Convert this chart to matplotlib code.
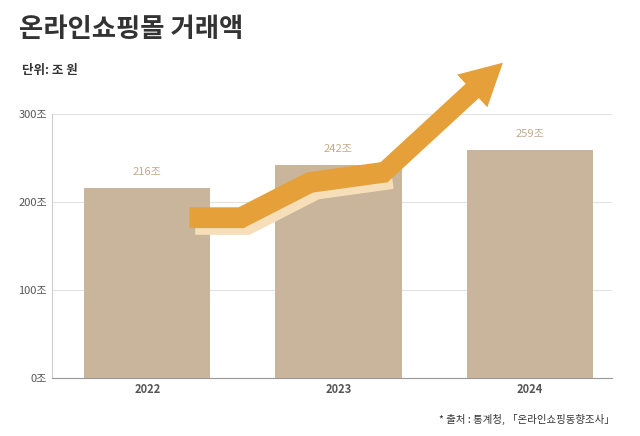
import matplotlib.pyplot as plt
import numpy as np

plt.rcParams['font.family'] = 'Noto Sans CJK KR'

years = ['2022', '2023', '2024']
values = [216, 242, 259]
yticks = [0, 100, 200, 300]
# decorative arrow path (x in bar index units, y in 조)
arrow_x = [0.22, 0.49, 0.85, 1.25, 1.86]
arrow_y = [182, 182, 222, 234, 358]

fig = plt.figure(figsize=(6.4, 4.36), dpi=100)
ax = fig.add_axes([0.081, 0.133, 0.875, 0.606])
x = np.arange(len(years))
ax.bar(x, values, width=0.66, color='#c8b59b', zorder=2)
for xi, v in zip(x, values):
    ax.text(xi, v + 12, f'{v}조', ha='center', va='bottom', fontsize=8, color='#c2ab8c')

ax.set_xlim(-0.5, 2.43)
ax.set_ylim(0, 300)
ax.set_yticks(yticks)
ax.set_yticklabels([f'{t}조' for t in yticks], fontsize=8, color='#555555')
ax.set_xticks(x)
ax.set_xticklabels(years, fontsize=8, fontweight='bold', color='#555555')
ax.tick_params(length=0)
ax.grid(axis='y', color='#e2e2e2', lw=0.8, zorder=0)
for s in ['top', 'right']:
    ax.spines[s].set_visible(False)
ax.spines['left'].set_color('#cccccc')
ax.spines['bottom'].set_color('#999999')

# arrow shaft: shadow then main
ax.plot([a + 0.03 for a in arrow_x[:-1]], [b - 6 for b in arrow_y[:-1]], color='#f6dfb8',
        lw=17, solid_capstyle='butt', solid_joinstyle='miter', zorder=3, clip_on=False)
ax.plot(arrow_x[:-1], arrow_y[:-1], color='#e5a03a', lw=15,
        solid_capstyle='butt', solid_joinstyle='miter', zorder=4, clip_on=False)
ax.annotate('', xy=(arrow_x[-1], arrow_y[-1]), xytext=(arrow_x[-2] - 0.03, arrow_y[-2] - 4),
            arrowprops=dict(arrowstyle='simple,head_width=3.2,head_length=3.0,tail_width=1.4',
                            color='#e5a03a', lw=0, shrinkA=0, shrinkB=0),
            zorder=5, annotation_clip=False)

fig.text(0.03, 0.915, '온라인쇼핑몰 거래액', fontsize=19, fontweight='bold', color='#333333')
fig.text(0.035, 0.83, '단위: 조 원', fontsize=9, fontweight='bold', color='#333333')
fig.text(0.96, 0.03, '* 출처 : 통계청, 「온라인쇼핑동향조사」', fontsize=7.5, ha='right', color='#333333')

fig.savefig('out.png', dpi=100)
